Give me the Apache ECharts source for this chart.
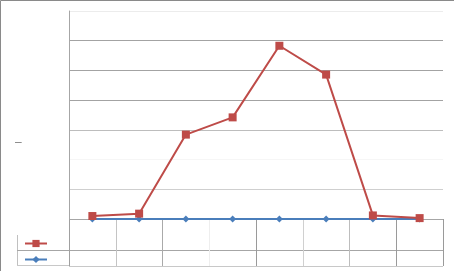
<!DOCTYPE html>
<html>
<head>
<meta charset="utf-8">
<script src="https://cdn.jsdelivr.net/npm/echarts@6/dist/echarts.min.js"></script>
<style>
html,body{margin:0;padding:0;background:#fff;}
#chart{width:454px;height:271px;}
</style>
</head>
<body>
<div id="chart"></div>
<script>
// Data
var categories = ['1', '2', '3', '4', '5', '6', '7', '8'];
var redValues = [0.10, 0.18, 2.84, 3.42, 5.83, 4.86, 0.12, 0.03];
var blueValues = [0, 0, 0, 0, 0, 0, 0, 0];
var seriesNames = ['Series 1', 'Series 2'];
var axisTitle = '–';

var chart = echarts.init(document.getElementById('chart'), null, {renderer: 'canvas'});

var gridLineColors = ['#a6a6a6', '#cfcfcf', '#f6f6f6', '#bdbdbd', '#a3a3a3', '#a3a3a3', '#a3a3a3', '#ececec'];
var tableVColors = ['#a0a0a0', '#c4c4c4', '#aaaaaa', '#eeeeee', '#9a9a9a', '#d0d0d0', '#bdbdbd', '#9a9a9a', '#9a9a9a'];

var option = {
  animation: false,
  backgroundColor: '#ffffff',
  grid: [
    {left: 69, right: 11, top: 11, bottom: 52},
    {left: 69, right: 11, top: 219, bottom: 5}
  ],
  xAxis: [
    {
      type: 'category', gridIndex: 0, data: categories, boundaryGap: true,
      axisLine: {show: false}, axisTick: {show: false}, axisLabel: {show: false},
      splitLine: {show: false}
    },
    {
      type: 'category', gridIndex: 1, data: categories, boundaryGap: true,
      axisLine: {show: false}, axisTick: {show: false}, axisLabel: {show: false},
      splitLine: {show: true, lineStyle: {color: tableVColors, width: 1}}
    }
  ],
  yAxis: [
    {
      type: 'value', gridIndex: 0, min: 0, max: 7, interval: 1,
      axisLine: {show: true, lineStyle: {color: '#a6a6a6', width: 1}},
      axisTick: {show: false}, axisLabel: {show: false},
      splitLine: {show: true, lineStyle: {color: gridLineColors, width: 1}}
    },
    {
      type: 'value', gridIndex: 1, min: 0, max: 3, interval: 1,
      axisLine: {show: false}, axisTick: {show: false}, axisLabel: {show: false},
      splitLine: {show: true, lineStyle: {color: ['#c8c8c8', '#a6a6a6', 'rgba(0,0,0,0)', 'rgba(0,0,0,0)'], width: 1}}
    }
  ],
  legend: [
    {
      data: [seriesNames[0]], left: 19, top: 234, orient: 'vertical',
      itemWidth: 22, itemHeight: 9, formatter: function(){ return ''; },
      textStyle: {fontSize: 1}
    },
    {
      data: [seriesNames[1]], left: 19, top: 250, orient: 'vertical',
      itemWidth: 22, itemHeight: 9, formatter: function(){ return ''; },
      textStyle: {fontSize: 1}
    }
  ],
  series: [
    {
      name: seriesNames[1], type: 'line', xAxisIndex: 0, yAxisIndex: 0,
      data: blueValues, symbol: 'diamond', symbolSize: 7,
      lineStyle: {color: '#4a7ebb', width: 2},
      itemStyle: {color: '#4a7ebb'}, z: 3
    },
    {
      name: seriesNames[0], type: 'line', xAxisIndex: 0, yAxisIndex: 0,
      data: redValues, symbol: 'rect', symbolSize: 8,
      lineStyle: {color: '#be4b48', width: 2},
      itemStyle: {color: '#be4b48'}, z: 4
    }
  ],
  graphic: [
    {type: 'rect', shape: {x: 0.5, y: 0.5, width: 470, height: 290}, style: {fill: 'none', stroke: '#8a8a8a', lineWidth: 1}, silent: true},
    {type: 'line', shape: {x1: 17.5, y1: 235, x2: 17.5, y2: 266}, style: {stroke: '#c0c0c0', lineWidth: 1}},
    {type: 'line', shape: {x1: 17, y1: 250.5, x2: 69, y2: 250.5}, style: {stroke: '#a6a6a6', lineWidth: 1}},
    {type: 'line', shape: {x1: 17, y1: 265.5, x2: 69, y2: 265.5}, style: {stroke: '#c8c8c8', lineWidth: 1}},
    {type: 'line', shape: {x1: 69.5, y1: 219, x2: 69.5, y2: 266}, style: {stroke: '#a0a0a0', lineWidth: 1}},
    {type: 'text', left: 15, top: 137, style: {text: axisTitle, fill: '#808080', font: '12px "Liberation Sans", Arial, sans-serif'}}
  ]
};
chart.setOption(option);
</script>
</body>
</html>
